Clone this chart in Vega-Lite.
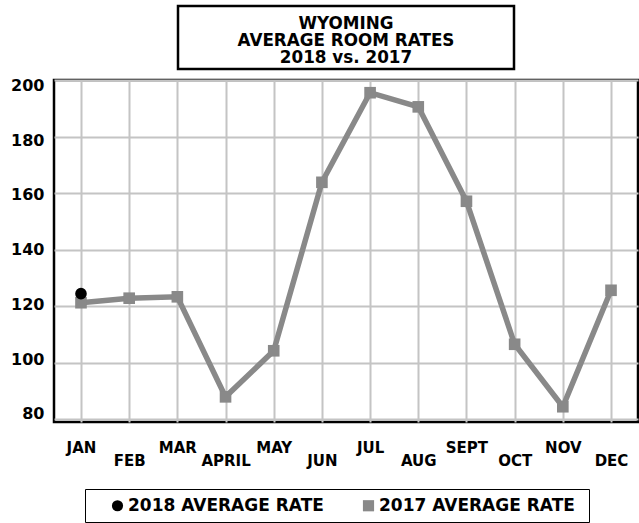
{
  "$schema": "https://vega.github.io/schema/vega-lite/v6.json",
  "padding": {"top": 4, "left": 9, "right": 0, "bottom": 0},
  "background": "white",
  "bounds": "flush",
  "center": true,
  "spacing": 11,
  "config": {
    "view": {"stroke": "black", "strokeWidth": 2.5},
    "font": "DejaVu Sans"
  },
  "datasets": {
    "rates": [
      {"month": "JAN", "series": "2017 AVERAGE RATE", "rate": 121.2},
      {"month": "FEB", "series": "2017 AVERAGE RATE", "rate": 122.8},
      {"month": "MAR", "series": "2017 AVERAGE RATE", "rate": 123.3},
      {"month": "APRIL", "series": "2017 AVERAGE RATE", "rate": 87.9},
      {"month": "MAY", "series": "2017 AVERAGE RATE", "rate": 104.2},
      {"month": "JUN", "series": "2017 AVERAGE RATE", "rate": 163.8},
      {"month": "JUL", "series": "2017 AVERAGE RATE", "rate": 195.5},
      {"month": "AUG", "series": "2017 AVERAGE RATE", "rate": 190.5},
      {"month": "SEPT", "series": "2017 AVERAGE RATE", "rate": 157.1},
      {"month": "OCT", "series": "2017 AVERAGE RATE", "rate": 106.5},
      {"month": "NOV", "series": "2017 AVERAGE RATE", "rate": 84.4},
      {"month": "DEC", "series": "2017 AVERAGE RATE", "rate": 125.6},
      {"month": "JAN", "series": "2018 AVERAGE RATE", "rate": 124.4}
    ],
    "title": [
      {"t": "WYOMING\nAVERAGE ROOM RATES\n2018 vs. 2017"}
    ]
  },
  "vconcat": [
    {
      "width": 336,
      "height": 63,
      "data": {"name": "title"},
      "view": {"stroke": null},
      "layer": [
        {
          "mark": {"type": "rect", "filled": false, "fill": null, "stroke": "black", "strokeWidth": 2.5}
        },
        {
          "mark": {"type": "text", "font": "DejaVu Sans", "fontWeight": "bold", "fontSize": 16.8, "lineHeight": 17, "lineBreak": "\n", "align": "center", "baseline": "middle", "color": "black", "dy": -14},
          "encoding": {"text": {"field": "t", "type": "nominal"}}
        }
      ]
    },
    {
      "width": 584,
      "height": 342,
      "data": {"name": "rates"},
      "encoding": {
        "x": {
          "field": "month", "type": "ordinal",
          "sort": ["JAN","FEB","MAR","APRIL","MAY","JUN","JUL","AUG","SEPT","OCT","NOV","DEC"],
          "scale": {"type": "point", "padding": 0.56},
          "axis": {
            "title": null, "labelAngle": 0, "grid": true, "gridColor": "#c4c4c4", "gridWidth": 2,
            "ticks": false, "domain": false,
            "labelFont": "DejaVu Sans", "labelFontWeight": "bold", "labelFontSize": 15, "labelColor": "black",
            "labelPadding": {"condition": {"test": "indexof(['FEB','APRIL','JUN','AUG','OCT','DEC'], datum.value) >= 0", "value": 31}, "value": 18}
          }
        },
        "y": {
          "field": "rate", "type": "quantitative",
          "scale": {"domain": [79, 200], "nice": false, "zero": false},
          "axis": {
            "title": null, "values": [80, 100, 120, 140, 160, 180, 200], "grid": true, "gridColor": "#c4c4c4", "gridWidth": 2,
            "ticks": false, "domain": false, "labelPadding": 10,
            "labelFont": "DejaVu Sans", "labelFontWeight": "bold", "labelFontSize": 16, "labelColor": "black",
            "labelOffset": {"condition": {"test": "datum.value == -999", "value": 0}, "expr": "(datum.value - 140) * 0.09"}
          }
        }
      },
      "layer": [
        {
          "transform": [{"filter": "datum.series == '2017 AVERAGE RATE'"}],
          "mark": {"type": "line", "color": "#898989", "strokeWidth": 5.5}
        },
        {
          "mark": {"type": "point", "filled": true, "opacity": 1, "size": 135},
          "encoding": {
            "color": {
              "field": "series", "type": "nominal",
              "scale": {"domain": ["2018 AVERAGE RATE", "2017 AVERAGE RATE"], "range": ["black", "#898989"]},
              "legend": {
                "orient": "none", "legendX": 31, "legendY": 483, "direction": "horizontal",
                "title": " ", "titleOrient": "right", "titlePadding": 6,
                "strokeColor": "black", "padding": 8,
                "labelFont": "DejaVu Sans", "labelFontWeight": "bold", "labelFontSize": 17, "labelColor": "black",
                "symbolSize": 125, "symbolOffset": 16, "columnPadding": 20, "labelOffset": 2, "labelLimit": 400
              }
            },
            "shape": {
              "field": "series", "type": "nominal",
              "scale": {"domain": ["2018 AVERAGE RATE", "2017 AVERAGE RATE"], "range": ["circle", "square"]}
            }
          }
        }
      ]
    }
  ]
}
